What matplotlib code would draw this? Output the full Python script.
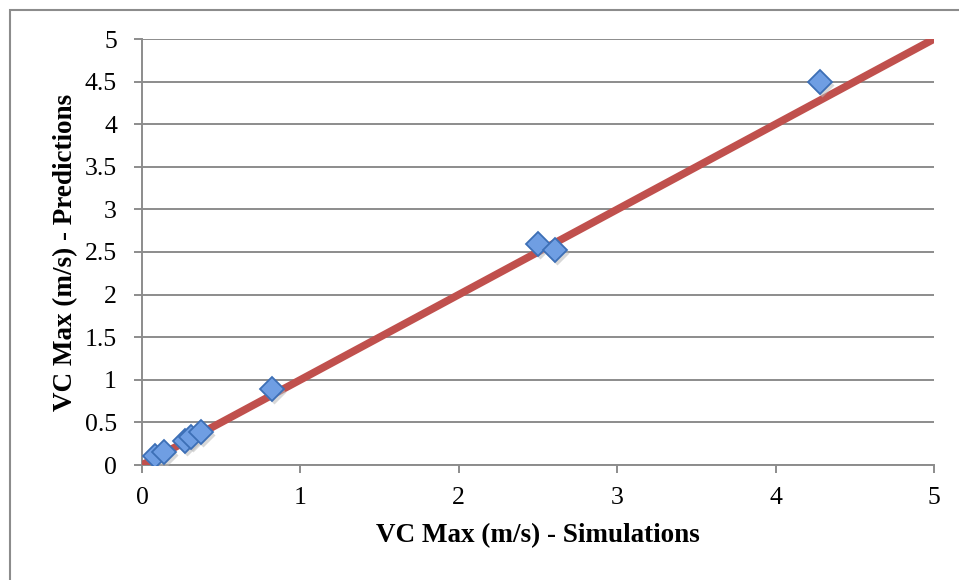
#!/usr/bin/env python3
"""VC Max: predictions vs simulations scatter with identity line."""
import matplotlib

matplotlib.use("Agg")
import matplotlib.pyplot as plt
from matplotlib.patches import Rectangle

# values
sim = [0.08, 0.14, 0.27, 0.31, 0.37, 0.82, 2.50, 2.61, 4.28]
pred = [0.10, 0.15, 0.28, 0.33, 0.39, 0.89, 2.59, 2.52, 4.50]
line_x = [0, 5]
line_y = [0, 5]
x_ticks = [0, 1, 2, 3, 4, 5]
y_ticks = [0, 0.5, 1, 1.5, 2, 2.5, 3, 3.5, 4, 4.5, 5]
y_tick_labels = ["0", "0.5", "1", "1.5", "2", "2.5", "3", "3.5", "4", "4.5", "5"]

W, H = 959, 580
GRID = "#8c8c8c"
plt.rcParams["font.family"] = ["Liberation Serif", "DejaVu Serif"]

fig = plt.figure(figsize=(W / 100, H / 100), dpi=100)
ax = fig.add_axes([142 / W, 1 - 465 / H, (934 - 142) / W, (465 - 39) / H])

# outer chart frame (clipped by the image on the right and bottom)
fig.patches.append(
    Rectangle((10 / W, -0.1), 1.2, 1.1 - 10 / H, transform=fig.transFigure,
              fill=False, edgecolor="#8c8c8c", lw=1.5)
)

ax.set_xlim(0, 5)
ax.set_ylim(0, 5)
ax.set_xticks(x_ticks)
ax.set_yticks(y_ticks)
ax.set_yticklabels(y_tick_labels)
ax.grid(axis="y", color=GRID, lw=1.4)
ax.set_axisbelow(True)
for side in ("top", "right"):
    ax.spines[side].set_visible(False)
for side in ("left", "bottom"):
    ax.spines[side].set_color(GRID)
    ax.spines[side].set_linewidth(1.4)
ax.tick_params(axis="both", length=6, width=1.4, color=GRID, labelsize=18.5)
ax.tick_params(axis="y", pad=12)
ax.tick_params(axis="x", pad=10)

ax.plot(line_x, line_y, color="#c0504d", lw=5.5, solid_capstyle="butt", zorder=3)

# soft shadow then diamonds
ax.plot(sim, pred, ls="none", marker="D", ms=12, mfc="#b8b8b8", mec="none",
        alpha=0.55, zorder=4,
        transform=ax.transData + matplotlib.transforms.ScaledTranslation(
            2 / 100, -3 / 100, fig.dpi_scale_trans))
ax.plot(sim, pred, ls="none", marker="D", ms=12, mfc="#6f9ee3", mec="#3d6fb6",
        mew=1.3, zorder=5)

ax.set_xlabel("VC Max (m/s) - Simulations", fontsize=19.5, fontweight="bold", labelpad=10)
ax.set_ylabel("VC Max (m/s) - Predictions", fontsize=19.5, fontweight="bold", labelpad=5)

fig.savefig("out.png", dpi=100)
